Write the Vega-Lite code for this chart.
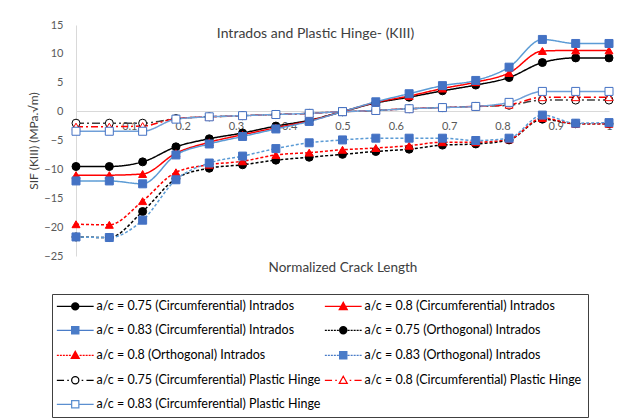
{
  "$schema": "https://vega.github.io/schema/vega-lite/v6.json",
  "autosize": {"type": "none"},
  "width": 533,
  "height": 231,
  "padding": {"left": 76, "top": 25, "right": 13, "bottom": 163},
  "background": "white",
  "config": {"view": {"stroke": null}, "font": "Lato"},
  "title": {"text": "Intrados and Plastic Hinge- (KIII)", "fontSize": 14, "fontWeight": "normal", "color": "#404040", "anchor": "middle", "offset": -22, "dx": -27, "font": "Lato"},
  "data": {"values": [
    {"s": "a/c = 0.75 (Circumferential) Intrados", "x": 0, "y": -9.5},
    {"s": "a/c = 0.75 (Circumferential) Intrados", "x": 0.0625, "y": -9.5},
    {"s": "a/c = 0.75 (Circumferential) Intrados", "x": 0.125, "y": -8.7},
    {"s": "a/c = 0.75 (Circumferential) Intrados", "x": 0.1875, "y": -6.1},
    {"s": "a/c = 0.75 (Circumferential) Intrados", "x": 0.25, "y": -4.7},
    {"s": "a/c = 0.75 (Circumferential) Intrados", "x": 0.3125, "y": -3.7},
    {"s": "a/c = 0.75 (Circumferential) Intrados", "x": 0.375, "y": -2.5},
    {"s": "a/c = 0.75 (Circumferential) Intrados", "x": 0.4375, "y": -1.5},
    {"s": "a/c = 0.75 (Circumferential) Intrados", "x": 0.5, "y": 0},
    {"s": "a/c = 0.75 (Circumferential) Intrados", "x": 0.5625, "y": 1.5},
    {"s": "a/c = 0.75 (Circumferential) Intrados", "x": 0.625, "y": 2.5},
    {"s": "a/c = 0.75 (Circumferential) Intrados", "x": 0.6875, "y": 3.6},
    {"s": "a/c = 0.75 (Circumferential) Intrados", "x": 0.75, "y": 4.6},
    {"s": "a/c = 0.75 (Circumferential) Intrados", "x": 0.8125, "y": 5.9},
    {"s": "a/c = 0.75 (Circumferential) Intrados", "x": 0.875, "y": 8.5},
    {"s": "a/c = 0.75 (Circumferential) Intrados", "x": 0.9375, "y": 9.3},
    {"s": "a/c = 0.75 (Circumferential) Intrados", "x": 1, "y": 9.3},
    {"s": "a/c = 0.8 (Circumferential) Intrados", "x": 0, "y": -11},
    {"s": "a/c = 0.8 (Circumferential) Intrados", "x": 0.0625, "y": -11},
    {"s": "a/c = 0.8 (Circumferential) Intrados", "x": 0.125, "y": -10.8},
    {"s": "a/c = 0.8 (Circumferential) Intrados", "x": 0.1875, "y": -7.2},
    {"s": "a/c = 0.8 (Circumferential) Intrados", "x": 0.25, "y": -5.3},
    {"s": "a/c = 0.8 (Circumferential) Intrados", "x": 0.3125, "y": -4.0},
    {"s": "a/c = 0.8 (Circumferential) Intrados", "x": 0.375, "y": -2.8},
    {"s": "a/c = 0.8 (Circumferential) Intrados", "x": 0.4375, "y": -1.6},
    {"s": "a/c = 0.8 (Circumferential) Intrados", "x": 0.5, "y": 0},
    {"s": "a/c = 0.8 (Circumferential) Intrados", "x": 0.5625, "y": 1.6},
    {"s": "a/c = 0.8 (Circumferential) Intrados", "x": 0.625, "y": 2.7},
    {"s": "a/c = 0.8 (Circumferential) Intrados", "x": 0.6875, "y": 4.0},
    {"s": "a/c = 0.8 (Circumferential) Intrados", "x": 0.75, "y": 5.1},
    {"s": "a/c = 0.8 (Circumferential) Intrados", "x": 0.8125, "y": 6.7},
    {"s": "a/c = 0.8 (Circumferential) Intrados", "x": 0.875, "y": 10.5},
    {"s": "a/c = 0.8 (Circumferential) Intrados", "x": 0.9375, "y": 10.6},
    {"s": "a/c = 0.8 (Circumferential) Intrados", "x": 1, "y": 10.6},
    {"s": "a/c = 0.83 (Circumferential) Intrados", "x": 0, "y": -12},
    {"s": "a/c = 0.83 (Circumferential) Intrados", "x": 0.0625, "y": -12},
    {"s": "a/c = 0.83 (Circumferential) Intrados", "x": 0.125, "y": -12.5},
    {"s": "a/c = 0.83 (Circumferential) Intrados", "x": 0.1875, "y": -7.5},
    {"s": "a/c = 0.83 (Circumferential) Intrados", "x": 0.25, "y": -5.6},
    {"s": "a/c = 0.83 (Circumferential) Intrados", "x": 0.3125, "y": -4.3},
    {"s": "a/c = 0.83 (Circumferential) Intrados", "x": 0.375, "y": -3.0},
    {"s": "a/c = 0.83 (Circumferential) Intrados", "x": 0.4375, "y": -1.7},
    {"s": "a/c = 0.83 (Circumferential) Intrados", "x": 0.5, "y": 0},
    {"s": "a/c = 0.83 (Circumferential) Intrados", "x": 0.5625, "y": 1.7},
    {"s": "a/c = 0.83 (Circumferential) Intrados", "x": 0.625, "y": 3.1},
    {"s": "a/c = 0.83 (Circumferential) Intrados", "x": 0.6875, "y": 4.5},
    {"s": "a/c = 0.83 (Circumferential) Intrados", "x": 0.75, "y": 5.4},
    {"s": "a/c = 0.83 (Circumferential) Intrados", "x": 0.8125, "y": 7.7},
    {"s": "a/c = 0.83 (Circumferential) Intrados", "x": 0.875, "y": 12.5},
    {"s": "a/c = 0.83 (Circumferential) Intrados", "x": 0.9375, "y": 11.8},
    {"s": "a/c = 0.83 (Circumferential) Intrados", "x": 1, "y": 11.8},
    {"s": "a/c = 0.75 (Orthogonal) Intrados", "x": 0, "y": -21.7},
    {"s": "a/c = 0.75 (Orthogonal) Intrados", "x": 0.0625, "y": -21.8},
    {"s": "a/c = 0.75 (Orthogonal) Intrados", "x": 0.125, "y": -17.3},
    {"s": "a/c = 0.75 (Orthogonal) Intrados", "x": 0.1875, "y": -11.6},
    {"s": "a/c = 0.75 (Orthogonal) Intrados", "x": 0.25, "y": -9.8},
    {"s": "a/c = 0.75 (Orthogonal) Intrados", "x": 0.3125, "y": -9.2},
    {"s": "a/c = 0.75 (Orthogonal) Intrados", "x": 0.375, "y": -8.4},
    {"s": "a/c = 0.75 (Orthogonal) Intrados", "x": 0.4375, "y": -7.9},
    {"s": "a/c = 0.75 (Orthogonal) Intrados", "x": 0.5, "y": -7.4},
    {"s": "a/c = 0.75 (Orthogonal) Intrados", "x": 0.5625, "y": -6.9},
    {"s": "a/c = 0.75 (Orthogonal) Intrados", "x": 0.625, "y": -6.5},
    {"s": "a/c = 0.75 (Orthogonal) Intrados", "x": 0.6875, "y": -5.8},
    {"s": "a/c = 0.75 (Orthogonal) Intrados", "x": 0.75, "y": -5.6},
    {"s": "a/c = 0.75 (Orthogonal) Intrados", "x": 0.8125, "y": -4.9},
    {"s": "a/c = 0.75 (Orthogonal) Intrados", "x": 0.875, "y": -1.3},
    {"s": "a/c = 0.75 (Orthogonal) Intrados", "x": 0.9375, "y": -2.1},
    {"s": "a/c = 0.75 (Orthogonal) Intrados", "x": 1, "y": -2.1},
    {"s": "a/c = 0.8 (Orthogonal) Intrados", "x": 0, "y": -19.5},
    {"s": "a/c = 0.8 (Orthogonal) Intrados", "x": 0.0625, "y": -19.6},
    {"s": "a/c = 0.8 (Orthogonal) Intrados", "x": 0.125, "y": -15.5},
    {"s": "a/c = 0.8 (Orthogonal) Intrados", "x": 0.1875, "y": -10.5},
    {"s": "a/c = 0.8 (Orthogonal) Intrados", "x": 0.25, "y": -9.2},
    {"s": "a/c = 0.8 (Orthogonal) Intrados", "x": 0.3125, "y": -8.6},
    {"s": "a/c = 0.8 (Orthogonal) Intrados", "x": 0.375, "y": -7.5},
    {"s": "a/c = 0.8 (Orthogonal) Intrados", "x": 0.4375, "y": -7.1},
    {"s": "a/c = 0.8 (Orthogonal) Intrados", "x": 0.5, "y": -6.6},
    {"s": "a/c = 0.8 (Orthogonal) Intrados", "x": 0.5625, "y": -6.3},
    {"s": "a/c = 0.8 (Orthogonal) Intrados", "x": 0.625, "y": -5.9},
    {"s": "a/c = 0.8 (Orthogonal) Intrados", "x": 0.6875, "y": -5.3},
    {"s": "a/c = 0.8 (Orthogonal) Intrados", "x": 0.75, "y": -5.3},
    {"s": "a/c = 0.8 (Orthogonal) Intrados", "x": 0.8125, "y": -4.8},
    {"s": "a/c = 0.8 (Orthogonal) Intrados", "x": 0.875, "y": -1.1},
    {"s": "a/c = 0.8 (Orthogonal) Intrados", "x": 0.9375, "y": -2.1},
    {"s": "a/c = 0.8 (Orthogonal) Intrados", "x": 1, "y": -2.1},
    {"s": "a/c = 0.83 (Orthogonal) Intrados", "x": 0, "y": -21.7},
    {"s": "a/c = 0.83 (Orthogonal) Intrados", "x": 0.0625, "y": -21.8},
    {"s": "a/c = 0.83 (Orthogonal) Intrados", "x": 0.125, "y": -18.8},
    {"s": "a/c = 0.83 (Orthogonal) Intrados", "x": 0.1875, "y": -11.8},
    {"s": "a/c = 0.83 (Orthogonal) Intrados", "x": 0.25, "y": -8.9},
    {"s": "a/c = 0.83 (Orthogonal) Intrados", "x": 0.3125, "y": -7.7},
    {"s": "a/c = 0.83 (Orthogonal) Intrados", "x": 0.375, "y": -6.4},
    {"s": "a/c = 0.83 (Orthogonal) Intrados", "x": 0.4375, "y": -5.4},
    {"s": "a/c = 0.83 (Orthogonal) Intrados", "x": 0.5, "y": -4.9},
    {"s": "a/c = 0.83 (Orthogonal) Intrados", "x": 0.5625, "y": -4.6},
    {"s": "a/c = 0.83 (Orthogonal) Intrados", "x": 0.625, "y": -4.6},
    {"s": "a/c = 0.83 (Orthogonal) Intrados", "x": 0.6875, "y": -4.6},
    {"s": "a/c = 0.83 (Orthogonal) Intrados", "x": 0.75, "y": -5.0},
    {"s": "a/c = 0.83 (Orthogonal) Intrados", "x": 0.8125, "y": -4.6},
    {"s": "a/c = 0.83 (Orthogonal) Intrados", "x": 0.875, "y": -0.6},
    {"s": "a/c = 0.83 (Orthogonal) Intrados", "x": 0.9375, "y": -2.0},
    {"s": "a/c = 0.83 (Orthogonal) Intrados", "x": 1, "y": -1.9},
    {"s": "a/c = 0.75 (Circumferential) Plastic Hinge", "x": 0, "y": -2.0},
    {"s": "a/c = 0.75 (Circumferential) Plastic Hinge", "x": 0.0625, "y": -2.0},
    {"s": "a/c = 0.75 (Circumferential) Plastic Hinge", "x": 0.125, "y": -2.0},
    {"s": "a/c = 0.75 (Circumferential) Plastic Hinge", "x": 0.1875, "y": -1.2},
    {"s": "a/c = 0.75 (Circumferential) Plastic Hinge", "x": 0.25, "y": -0.9},
    {"s": "a/c = 0.75 (Circumferential) Plastic Hinge", "x": 0.3125, "y": -0.7},
    {"s": "a/c = 0.75 (Circumferential) Plastic Hinge", "x": 0.375, "y": -0.5},
    {"s": "a/c = 0.75 (Circumferential) Plastic Hinge", "x": 0.4375, "y": -0.3},
    {"s": "a/c = 0.75 (Circumferential) Plastic Hinge", "x": 0.5, "y": 0},
    {"s": "a/c = 0.75 (Circumferential) Plastic Hinge", "x": 0.5625, "y": 0.2},
    {"s": "a/c = 0.75 (Circumferential) Plastic Hinge", "x": 0.625, "y": 0.5},
    {"s": "a/c = 0.75 (Circumferential) Plastic Hinge", "x": 0.6875, "y": 0.7},
    {"s": "a/c = 0.75 (Circumferential) Plastic Hinge", "x": 0.75, "y": 0.9},
    {"s": "a/c = 0.75 (Circumferential) Plastic Hinge", "x": 0.8125, "y": 1.1},
    {"s": "a/c = 0.75 (Circumferential) Plastic Hinge", "x": 0.875, "y": 2.0},
    {"s": "a/c = 0.75 (Circumferential) Plastic Hinge", "x": 0.9375, "y": 2.0},
    {"s": "a/c = 0.75 (Circumferential) Plastic Hinge", "x": 1, "y": 2.0},
    {"s": "a/c = 0.8 (Circumferential) Plastic Hinge", "x": 0, "y": -2.6},
    {"s": "a/c = 0.8 (Circumferential) Plastic Hinge", "x": 0.0625, "y": -2.6},
    {"s": "a/c = 0.8 (Circumferential) Plastic Hinge", "x": 0.125, "y": -2.5},
    {"s": "a/c = 0.8 (Circumferential) Plastic Hinge", "x": 0.1875, "y": -1.2},
    {"s": "a/c = 0.8 (Circumferential) Plastic Hinge", "x": 0.25, "y": -0.9},
    {"s": "a/c = 0.8 (Circumferential) Plastic Hinge", "x": 0.3125, "y": -0.7},
    {"s": "a/c = 0.8 (Circumferential) Plastic Hinge", "x": 0.375, "y": -0.5},
    {"s": "a/c = 0.8 (Circumferential) Plastic Hinge", "x": 0.4375, "y": -0.3},
    {"s": "a/c = 0.8 (Circumferential) Plastic Hinge", "x": 0.5, "y": 0},
    {"s": "a/c = 0.8 (Circumferential) Plastic Hinge", "x": 0.5625, "y": 0.2},
    {"s": "a/c = 0.8 (Circumferential) Plastic Hinge", "x": 0.625, "y": 0.5},
    {"s": "a/c = 0.8 (Circumferential) Plastic Hinge", "x": 0.6875, "y": 0.7},
    {"s": "a/c = 0.8 (Circumferential) Plastic Hinge", "x": 0.75, "y": 0.9},
    {"s": "a/c = 0.8 (Circumferential) Plastic Hinge", "x": 0.8125, "y": 1.2},
    {"s": "a/c = 0.8 (Circumferential) Plastic Hinge", "x": 0.875, "y": 2.5},
    {"s": "a/c = 0.8 (Circumferential) Plastic Hinge", "x": 0.9375, "y": 2.5},
    {"s": "a/c = 0.8 (Circumferential) Plastic Hinge", "x": 1, "y": 2.5},
    {"s": "a/c = 0.83 (Circumferential) Plastic Hinge", "x": 0, "y": -3.4},
    {"s": "a/c = 0.83 (Circumferential) Plastic Hinge", "x": 0.0625, "y": -3.4},
    {"s": "a/c = 0.83 (Circumferential) Plastic Hinge", "x": 0.125, "y": -3.4},
    {"s": "a/c = 0.83 (Circumferential) Plastic Hinge", "x": 0.1875, "y": -1.3},
    {"s": "a/c = 0.83 (Circumferential) Plastic Hinge", "x": 0.25, "y": -0.9},
    {"s": "a/c = 0.83 (Circumferential) Plastic Hinge", "x": 0.3125, "y": -0.7},
    {"s": "a/c = 0.83 (Circumferential) Plastic Hinge", "x": 0.375, "y": -0.5},
    {"s": "a/c = 0.83 (Circumferential) Plastic Hinge", "x": 0.4375, "y": -0.3},
    {"s": "a/c = 0.83 (Circumferential) Plastic Hinge", "x": 0.5, "y": 0},
    {"s": "a/c = 0.83 (Circumferential) Plastic Hinge", "x": 0.5625, "y": 0.2},
    {"s": "a/c = 0.83 (Circumferential) Plastic Hinge", "x": 0.625, "y": 0.5},
    {"s": "a/c = 0.83 (Circumferential) Plastic Hinge", "x": 0.6875, "y": 0.7},
    {"s": "a/c = 0.83 (Circumferential) Plastic Hinge", "x": 0.75, "y": 0.9},
    {"s": "a/c = 0.83 (Circumferential) Plastic Hinge", "x": 0.8125, "y": 1.6},
    {"s": "a/c = 0.83 (Circumferential) Plastic Hinge", "x": 0.875, "y": 3.5},
    {"s": "a/c = 0.83 (Circumferential) Plastic Hinge", "x": 0.9375, "y": 3.5},
    {"s": "a/c = 0.83 (Circumferential) Plastic Hinge", "x": 1, "y": 3.5}
  ]},
  "encoding": {
    "x": {"field": "x", "type": "quantitative", "scale": {"domain": [0, 1], "nice": false, "zero": false},
      "axis": {"title": "Normalized Crack Length", "offset": -145, "values": [0, 0.1, 0.2, 0.3, 0.4, 0.5, 0.6, 0.7, 0.8, 0.9, 1], "format": "~g", "ticks": false, "grid": false, "domainColor": "#d9d9d9", "labelColor": "#595959", "labelFontSize": 11, "labelPadding": 9, "labelOverlap": false, "labelFlush": false, "titleY": 149, "titleFontSize": 13.5, "titleFontWeight": "normal", "titleColor": "#404040"}},
    "y": {"field": "y", "type": "quantitative", "scale": {"domain": [-25, 15], "nice": false, "zero": false},
      "axis": {"title": "SIF (KIII) (MPa.√m)", "values": [-25, -20, -15, -10, -5, 0, 5, 10, 15], "ticks": false, "grid": false, "domainColor": "#d9d9d9", "labelColor": "#595959", "labelFontSize": 11, "labelPadding": 13, "titleFontSize": 12, "titleFontWeight": "normal", "titleColor": "#404040", "titlePadding": 3}}
  },
  "layer": [
    {
      "mark": {"type": "line", "interpolate": "monotone"},
      "encoding": {
        "detail": {"field": "s"},
        "stroke": {"field": "s", "type": "nominal", "legend": null, "scale": {
          "domain": ["a/c = 0.75 (Circumferential) Intrados", "a/c = 0.8 (Circumferential) Intrados", "a/c = 0.83 (Circumferential) Intrados", "a/c = 0.75 (Orthogonal) Intrados", "a/c = 0.8 (Orthogonal) Intrados", "a/c = 0.83 (Orthogonal) Intrados", "a/c = 0.75 (Circumferential) Plastic Hinge", "a/c = 0.8 (Circumferential) Plastic Hinge", "a/c = 0.83 (Circumferential) Plastic Hinge"],
          "range": ["#000000", "#ff0000", "#5b9bd5", "#000000", "#ff0000", "#5b9bd5", "#404040", "#ff0000", "#6f9fd8"]}},
        "strokeDash": {"field": "s", "type": "nominal", "legend": null, "scale": {
          "domain": ["a/c = 0.75 (Circumferential) Intrados", "a/c = 0.8 (Circumferential) Intrados", "a/c = 0.83 (Circumferential) Intrados", "a/c = 0.75 (Orthogonal) Intrados", "a/c = 0.8 (Orthogonal) Intrados", "a/c = 0.83 (Orthogonal) Intrados", "a/c = 0.75 (Circumferential) Plastic Hinge", "a/c = 0.8 (Circumferential) Plastic Hinge", "a/c = 0.83 (Circumferential) Plastic Hinge"],
          "range": [[1, 0], [1, 0], [1, 0], [3, 2], [3, 2], [3, 2], [8, 3, 2, 3], [7, 3, 2, 3], [1, 0]]}},
        "strokeWidth": {"field": "s", "type": "nominal", "legend": null, "scale": {
          "domain": ["a/c = 0.75 (Circumferential) Intrados", "a/c = 0.8 (Circumferential) Intrados", "a/c = 0.83 (Circumferential) Intrados", "a/c = 0.75 (Orthogonal) Intrados", "a/c = 0.8 (Orthogonal) Intrados", "a/c = 0.83 (Orthogonal) Intrados", "a/c = 0.75 (Circumferential) Plastic Hinge", "a/c = 0.8 (Circumferential) Plastic Hinge", "a/c = 0.83 (Circumferential) Plastic Hinge"],
          "range": [1.5, 1.5, 1.5, 1, 1, 1, 1.25, 1.25, 1.5]}}
      }
    },
    {
      "mark": {"type": "point", "size": 64, "opacity": 1, "strokeWidth": 1},
      "encoding": {
        "shape": {"field": "s", "type": "nominal", "legend": null, "scale": {
          "domain": ["a/c = 0.75 (Circumferential) Intrados", "a/c = 0.8 (Circumferential) Intrados", "a/c = 0.83 (Circumferential) Intrados", "a/c = 0.75 (Orthogonal) Intrados", "a/c = 0.8 (Orthogonal) Intrados", "a/c = 0.83 (Orthogonal) Intrados", "a/c = 0.75 (Circumferential) Plastic Hinge", "a/c = 0.8 (Circumferential) Plastic Hinge", "a/c = 0.83 (Circumferential) Plastic Hinge"],
          "range": ["circle", "triangle-up", "square", "circle", "triangle-up", "square", "circle", "triangle-up", "square"]}},
        "stroke": {"field": "s", "type": "nominal", "legend": null, "scale": {
          "domain": ["a/c = 0.75 (Circumferential) Intrados", "a/c = 0.8 (Circumferential) Intrados", "a/c = 0.83 (Circumferential) Intrados", "a/c = 0.75 (Orthogonal) Intrados", "a/c = 0.8 (Orthogonal) Intrados", "a/c = 0.83 (Orthogonal) Intrados", "a/c = 0.75 (Circumferential) Plastic Hinge", "a/c = 0.8 (Circumferential) Plastic Hinge", "a/c = 0.83 (Circumferential) Plastic Hinge"],
          "range": ["#000000", "#ff0000", "#4472c4", "#000000", "#ff0000", "#4472c4", "#000000", "#ff0000", "#4472c4"]}},
        "fill": {"field": "s", "type": "nominal", "legend": null, "scale": {
          "domain": ["a/c = 0.75 (Circumferential) Intrados", "a/c = 0.8 (Circumferential) Intrados", "a/c = 0.83 (Circumferential) Intrados", "a/c = 0.75 (Orthogonal) Intrados", "a/c = 0.8 (Orthogonal) Intrados", "a/c = 0.83 (Orthogonal) Intrados", "a/c = 0.75 (Circumferential) Plastic Hinge", "a/c = 0.8 (Circumferential) Plastic Hinge", "a/c = 0.83 (Circumferential) Plastic Hinge"],
          "range": ["#000000", "#ff0000", "#4472c4", "#000000", "#ff0000", "#4472c4", "#ffffff", "#ffffff", "#ffffff"]}}
      }
    },
    {
      "mark": {"type": "point", "size": 64, "opacity": 0},
      "encoding": {
        "shape": {"field": "s", "type": "nominal", "scale": {
          "domain": ["a/c = 0.75 (Circumferential) Intrados", "a/c = 0.8 (Circumferential) Intrados", "a/c = 0.83 (Circumferential) Intrados", "a/c = 0.75 (Orthogonal) Intrados", "a/c = 0.8 (Orthogonal) Intrados", "a/c = 0.83 (Orthogonal) Intrados", "a/c = 0.75 (Circumferential) Plastic Hinge", "a/c = 0.8 (Circumferential) Plastic Hinge", "a/c = 0.83 (Circumferential) Plastic Hinge"],
          "range": [
            "M-4.6,0L4.6,0M0.9,0A0.9,0.9,0,1,1,-0.9,0A0.9,0.9,0,1,1,0.9,0ZM-0.5,-0.75L0.5,-0.75M-0.75,-0.5L0.75,-0.5M-0.86,-0.25L0.86,-0.25M-0.86,0.25L0.86,0.25M-0.75,0.5L0.75,0.5M-0.5,0.75L0.5,0.75",
            "M-4.6,0L4.6,0M0,-1L1,0.8L-1,0.8ZM-0.14,-0.75L0.14,-0.75M-0.28,-0.5L0.28,-0.5M-0.42,-0.25L0.42,-0.25M-0.69,0.25L0.69,0.25M-0.83,0.5L0.83,0.5M-0.97,0.75L0.97,0.75",
            "M-4.6,0L4.6,0M-0.9,-0.9L0.9,-0.9L0.9,0.9L-0.9,0.9ZM-0.9,-0.6L0.9,-0.6M-0.9,-0.3L0.9,-0.3M-0.9,0.3L0.9,0.3M-0.9,0.6L0.9,0.6",
            "M-4.6,0L-4.1,0M-3.85,0L-3.35,0M-3.1,0L-2.6,0M-2.35,0L-1.85,0M-1.6,0L-1.1,0M1.1,0L1.6,0M1.85,0L2.35,0M2.6,0L3.1,0M3.35,0L3.85,0M4.1,0L4.6,0M-0.9,0L0.9,0M0.9,0A0.9,0.9,0,1,1,-0.9,0A0.9,0.9,0,1,1,0.9,0ZM-0.5,-0.75L0.5,-0.75M-0.75,-0.5L0.75,-0.5M-0.86,-0.25L0.86,-0.25M-0.86,0.25L0.86,0.25M-0.75,0.5L0.75,0.5M-0.5,0.75L0.5,0.75",
            "M-4.6,0L-4.1,0M-3.85,0L-3.35,0M-3.1,0L-2.6,0M-2.35,0L-1.85,0M-1.6,0L-1.1,0M1.1,0L1.6,0M1.85,0L2.35,0M2.6,0L3.1,0M3.35,0L3.85,0M4.1,0L4.6,0M-0.56,0L0.56,0M0,-1L1,0.8L-1,0.8ZM-0.14,-0.75L0.14,-0.75M-0.28,-0.5L0.28,-0.5M-0.42,-0.25L0.42,-0.25M-0.69,0.25L0.69,0.25M-0.83,0.5L0.83,0.5M-0.97,0.75L0.97,0.75",
            "M-4.6,0L-4.1,0M-3.85,0L-3.35,0M-3.1,0L-2.6,0M-2.35,0L-1.85,0M-1.6,0L-1.1,0M1.1,0L1.6,0M1.85,0L2.35,0M2.6,0L3.1,0M3.35,0L3.85,0M4.1,0L4.6,0M-0.9,0L0.9,0M-0.9,-0.9L0.9,-0.9L0.9,0.9L-0.9,0.9ZM-0.9,-0.6L0.9,-0.6M-0.9,-0.3L0.9,-0.3M-0.9,0.3L0.9,0.3M-0.9,0.6L0.9,0.6",
            "M-4.6,0L-2.8,0M-2.0,0L-1.6,0M1.6,0L2.0,0M2.8,0L4.6,0M0.9,0A0.9,0.9,0,1,1,-0.9,0A0.9,0.9,0,1,1,0.9,0Z",
            "M-4.6,0L-2.8,0M-2.0,0L-1.6,0M1.6,0L2.0,0M2.8,0L4.6,0M0,-1L1,0.8L-1,0.8Z",
            "M-4.6,0L-0.9,0M0.9,0L4.6,0M-0.9,-0.9L0.9,-0.9L0.9,0.9L-0.9,0.9Z"
          ]},
          "legend": {"title": null, "orient": "none", "legendX": -24, "legendY": 269, "columns": 2, "direction": "horizontal", "symbolSize": 64, "symbolOffset": 11, "labelOffset": 15, "symbolStrokeWidth": 1.25, "padding": 6, "strokeColor": "#404040", "labelFont": "Lato", "labelFontSize": 12.5, "labelColor": "#000000", "labelLimit": 400, "rowPadding": 11, "columnPadding": 1}},
        "stroke": {"field": "s", "type": "nominal", "scale": {
          "domain": ["a/c = 0.75 (Circumferential) Intrados", "a/c = 0.8 (Circumferential) Intrados", "a/c = 0.83 (Circumferential) Intrados", "a/c = 0.75 (Orthogonal) Intrados", "a/c = 0.8 (Orthogonal) Intrados", "a/c = 0.83 (Orthogonal) Intrados", "a/c = 0.75 (Circumferential) Plastic Hinge", "a/c = 0.8 (Circumferential) Plastic Hinge", "a/c = 0.83 (Circumferential) Plastic Hinge"],
          "range": ["#000000", "#ff0000", "#4a7cc8", "#000000", "#ff0000", "#4a7cc8", "#000000", "#ff0000", "#5b8fd0"]}},
        "fill": {"field": "s", "type": "nominal", "scale": {
          "domain": ["a/c = 0.75 (Circumferential) Intrados", "a/c = 0.8 (Circumferential) Intrados", "a/c = 0.83 (Circumferential) Intrados", "a/c = 0.75 (Orthogonal) Intrados", "a/c = 0.8 (Orthogonal) Intrados", "a/c = 0.83 (Orthogonal) Intrados", "a/c = 0.75 (Circumferential) Plastic Hinge", "a/c = 0.8 (Circumferential) Plastic Hinge", "a/c = 0.83 (Circumferential) Plastic Hinge"],
          "range": ["#000000", "#ff0000", "#4472c4", "#000000", "#ff0000", "#4472c4", "#ffffff", "#ffffff", "#ffffff"]}}
      }
    }
  ],
  "resolve": {"scale": {"shape": "independent", "stroke": "independent", "fill": "independent", "strokeDash": "independent", "strokeWidth": "independent"}}
}
